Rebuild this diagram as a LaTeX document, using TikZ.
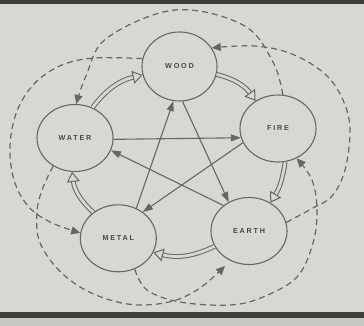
\documentclass[tikz,border=0pt]{standalone}
\usepackage{fontspec}
\setmainfont{Liberation Sans}
\newfontfamily\labfont[LetterSpace=25]{Liberation Sans}
\usetikzlibrary{arrows.meta,shapes.geometric}
\definecolor{bg}{RGB}{216,216,210}
\definecolor{ln}{RGB}{102,102,98}
\definecolor{tx}{RGB}{70,70,68}
\definecolor{frame}{RGB}{62,62,60}
\begin{document}
\begin{tikzpicture}[x=1pt,y=1pt,
  elem/.style={ellipse, draw=ln, line width=1.1pt, minimum width=76pt, minimum height=67pt,
    inner sep=0pt, font=\labfont\bfseries\fontsize{7.2}{8}\selectfont, text=tx},
  gen/.style={draw=ln, double=bg, double distance=2.8pt, line width=1pt,
    -{Triangle[open,length=10pt,width=13pt]}, bend left=20},
  ctl/.style={draw=ln, line width=1.1pt, -{Triangle[length=10pt,width=7pt]}},
  ins/.style={draw=ln, line width=1.2pt, dash pattern=on 6pt off 4pt,
    -{Triangle[length=9pt,width=8pt]}}
]
\fill[bg] (0,0) rectangle (364,326);
\fill[frame] (0,322) rectangle (364,326);
\fill[bg!92!black] (0,0) rectangle (364,8);
\fill[frame] (0,8) rectangle (364,14);
\useasboundingbox (0,0) rectangle (364,326);

\node[elem, minimum width=75pt, minimum height=69pt] (wood) at (179.5,259.5) {WOOD};
\node[elem] (fire) at (278,197.5) {FIRE};
\node[elem] (water) at (75,188) {WATER};
\node[elem] (metal) at (118.3,87.7) {METAL};
\node[elem] (earth) at (249,95) {EARTH};
\coordinate (earthin) at (225,60);

% generating cycle (hollow arrows)
\draw[gen] (water.60) to (wood.193);
\draw[gen] (wood.-12) to (fire.129);
\draw[gen, bend left=12] (fire.-78) to (earth.53);
\draw[gen] (earth.204) to (metal.-22);
\draw[gen] (metal.134) to (water.265);

% controlling cycle
\draw[ctl] (wood.-85) -- (earth.125);
\draw[ctl] (earth.135) -- (water.-19);
\draw[ctl] (water.-2) -- (fire.194);
\draw[ctl] (fire.202) -- (metal.47);
\draw[ctl] (metal.59) -- (wood.260);

% dashed arcs
\draw[ins] plot[smooth, tension=0.6] coordinates {(fire.82) (273,264) (243,301) (175,316) (107,288) (86,250) (water.88)};
\draw[ins] plot[smooth, tension=0.6] coordinates {(earth.13) (313,118) (332,130) (345,156) (350,196) (343,226) (325,252) (292,272) (255,280) (wood.30)};
\draw[ins] plot[smooth, tension=0.6] coordinates {(wood.168) (95,268) (62,261) (35,243) (17,215) (10,180) (14,146) (28,120) (50,104) (metal.172)};
\draw[ins] plot[smooth, tension=0.6] coordinates {(metal.-62) (147,36) (180,24) (230,21) (263,29) (297,49) (313,83) (317,116) (312,146) (fire.-58)};
\draw[ins] plot[smooth, tension=0.6] coordinates {(water.232) (42,136) (37,114) (39,86) (55,60) (80,39) (110,26) (140,21) (173,25) (200,38) (earthin)};
\end{tikzpicture}
\end{document}
